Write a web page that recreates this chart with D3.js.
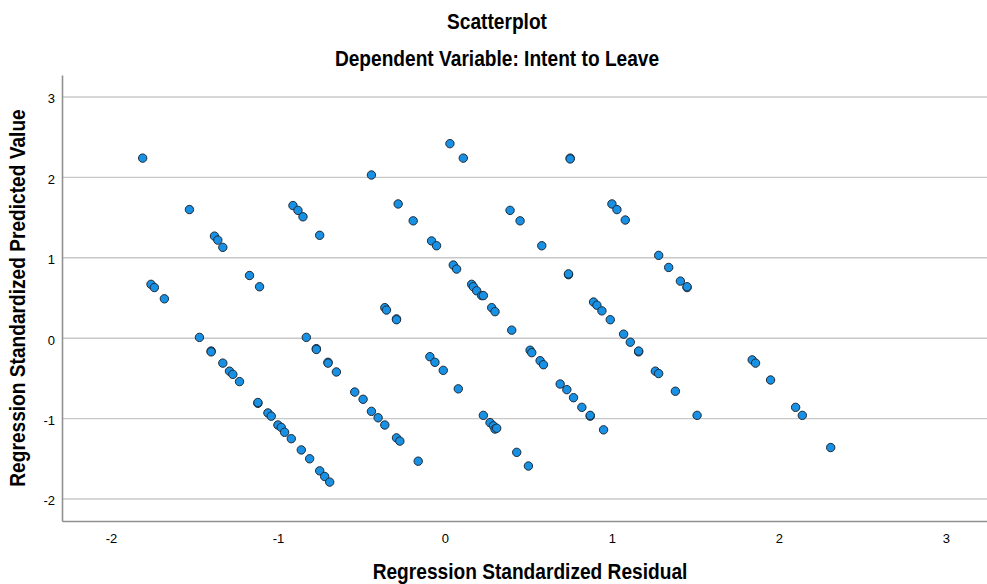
<!DOCTYPE html>
<html lang="en">
<head>
    <meta charset="UTF-8">
    <title>Scatterplot</title>
    <script src="https://d3js.org/d3.v7.min.js"></script>
    <style>
        body { margin: 0; background: #fff; }
        text { font-family: "Liberation Sans", Arial, sans-serif; fill: #000; }
        .title { font-size: 22px; font-weight: bold; }
        .axis-title { font-size: 22px; font-weight: bold; }
        .tick-label { font-size: 13px; }
    </style>
</head>
<body>
    <div id="chart"></div>

    <script>
        // regression standardized residual (x) / predicted value (y)
        const residuals = [
            -1.81, -0.44, -1.53, -0.91, -0.88, -0.85, -0.75, -1.38, -1.36, -1.33,
            -1.17, -1.11, -1.76, -1.74, -1.68, -0.36, -0.35, 0.03, 0.11, 0.75,
            0.75, -0.28, -0.19, -0.08, -0.05, 0.05, 0.07, 0.16, 0.17, 0.19,
            0.22, 0.23, 0.28, 0.30, -0.29, -0.29, 0.39, 0.45, 0.58, 0.74,
            0.74, 1.00, 1.03, 1.08, 1.28, 1.34, 1.41, 1.45, 1.45, 0.89,
            0.91, 0.94, 0.99, 0.40, 1.07, 1.11, 1.16, 1.16, 1.26, 1.28,
            1.38, 1.51, 1.84, 1.86, 1.95, 2.10, 2.14, 2.31, -1.47, -1.40,
            -1.40, -1.33, -1.29, -1.27, -1.23, -1.12, -1.12, -1.06, -1.04, -1.00,
            -0.98, -0.96, -0.92, -0.86, -0.81, -0.75, -0.72, -0.69, -0.83, -0.77,
            -0.77, -0.70, -0.70, -0.65, -0.54, -0.49, -0.44, -0.40, -0.36, -0.29,
            -0.27, -0.16, -0.09, -0.06, -0.01, 0.08, 0.51, 0.52, 0.57, 0.59,
            0.69, 0.73, 0.77, 0.82, 0.87, 0.87, 0.95, 0.23, 0.27, 0.29,
            0.30, 0.31, 0.43, 0.50
        ];
        const predicted = [
            2.24, 2.03, 1.60, 1.65, 1.59, 1.51, 1.28, 1.27, 1.22, 1.13,
            0.78, 0.64, 0.67, 0.63, 0.49, 0.38, 0.35, 2.42, 2.24, 2.24,
            2.23, 1.67, 1.46, 1.21, 1.15, 0.91, 0.86, 0.67, 0.64, 0.59,
            0.53, 0.53, 0.38, 0.33, 0.24, 0.23, 1.59, 1.46, 1.15, 0.79,
            0.80, 1.67, 1.60, 1.47, 1.03, 0.88, 0.71, 0.63, 0.64, 0.45,
            0.41, 0.34, 0.23, 0.10, 0.05, -0.05, -0.17, -0.16, -0.41, -0.44,
            -0.66, -0.96, -0.27, -0.31, -0.52, -0.86, -0.96, -1.36, 0.01, -0.16,
            -0.17, -0.31, -0.41, -0.45, -0.54, -0.81, -0.80, -0.93, -0.97, -1.08,
            -1.11, -1.17, -1.25, -1.39, -1.50, -1.65, -1.72, -1.79, 0.01, -0.13,
            -0.14, -0.30, -0.31, -0.42, -0.67, -0.76, -0.91, -0.99, -1.08, -1.24,
            -1.28, -1.53, -0.23, -0.30, -0.40, -0.63, -0.15, -0.18, -0.28, -0.33,
            -0.57, -0.64, -0.74, -0.86, -0.97, -0.96, -1.14, -0.96, -1.05, -1.09,
            -1.13, -1.12, -1.42, -1.59
        ];
        const xTicks = [-2, -1, 0, 1, 2, 3];
        const yTicks = [-2, -1, 0, 1, 2, 3];

        const width = 987, height = 584;
        const margin = {top: 75, right: 0, bottom: 63, left: 62};
        const innerW = width - margin.left - margin.right,
              innerH = height - margin.top - margin.bottom;
        const squeeze = 0.87; // titles in the original are drawn condensed

        const x = d3.scaleLinear().domain([-2.293, 3.246]).range([0, innerW]);
        const y = d3.scaleLinear().domain([-2.274, 3.274]).range([innerH, 0]);

        const svg = d3.select("#chart")
                      .append("svg")
                      .attr("width", width)
                      .attr("height", height);

        svg.append("text")
           .attr("class", "title")
           .attr("transform", `translate(497, 29) scale(${squeeze}, 1)`)
           .attr("text-anchor", "middle")
           .text("Scatterplot");

        svg.append("text")
           .attr("class", "title")
           .attr("transform", `translate(497, 66) scale(${squeeze}, 1)`)
           .attr("text-anchor", "middle")
           .text("Dependent Variable: Intent to Leave");

        const g = svg.append("g")
                     .attr("transform", `translate(${margin.left}, ${margin.top})`);

        // horizontal grid lines
        g.selectAll(".grid")
         .data(yTicks)
         .enter()
         .append("line")
         .attr("class", "grid")
         .attr("x1", 0)
         .attr("x2", innerW)
         .attr("y1", d => y(d))
         .attr("y2", d => y(d))
         .attr("stroke", "#c8c8c8")
         .attr("stroke-width", 1.4);

        // axes
        const yAxis = g.append("g")
                       .call(d3.axisLeft(y).tickValues(yTicks).tickSize(0).tickPadding(7).tickFormat(d => String(d)));
        const xAxis = g.append("g")
                       .attr("transform", `translate(0, ${innerH})`)
                       .call(d3.axisBottom(x).tickValues(xTicks).tickSize(0).tickPadding(13).tickFormat(d => String(d)));

        [xAxis, yAxis].forEach(a => {
            a.select(".domain").attr("stroke", "#909090").attr("stroke-width", 1.6);
            a.selectAll("text").attr("class", "tick-label").attr("font-family", null).attr("font-size", null);
        });
        yAxis.selectAll("text").attr("dy", "0.45em");

        g.selectAll(".dot")
         .data(residuals.map((r, i) => ({r: r, p: predicted[i]})))
         .enter()
         .append("circle")
         .attr("class", "dot")
         .attr("cx", d => x(d.r))
         .attr("cy", d => y(d.p))
         .attr("r", 4.2)
         .attr("fill", "#1890e4")
         .attr("stroke", "#1e2a36")
         .attr("stroke-width", 1);

        svg.append("text")
           .attr("class", "axis-title")
           .attr("transform", `translate(530, 579) scale(${squeeze}, 1)`)
           .attr("text-anchor", "middle")
           .text("Regression Standardized Residual");

        svg.append("text")
           .attr("class", "axis-title")
           .attr("transform", `translate(25, 298) rotate(-90) scale(${squeeze}, 1)`)
           .attr("text-anchor", "middle")
           .text("Regression Standardized Predicted Value");
    </script>
</body>
</html>
